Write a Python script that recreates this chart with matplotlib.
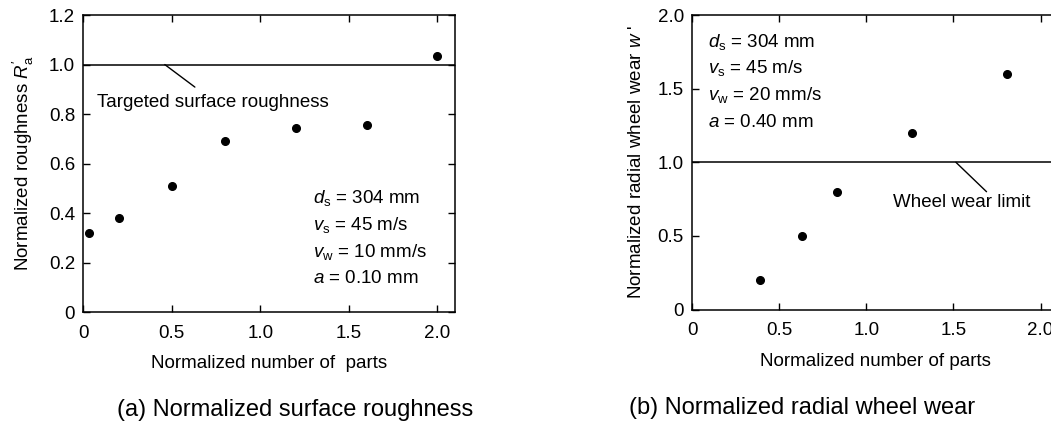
import matplotlib
matplotlib.use("Agg")
import matplotlib.pyplot as plt

plt.rcParams['font.family'] = ['Liberation Sans', 'DejaVu Sans']
plt.rcParams['mathtext.fontset'] = 'custom'
plt.rcParams['mathtext.rm'] = 'Liberation Sans'
plt.rcParams['mathtext.it'] = 'Liberation Sans:italic'

# (a) surface roughness
parts_a = [0.03, 0.20, 0.50, 0.80, 1.20, 1.60, 2.00]
roughness = [0.318, 0.378, 0.509, 0.692, 0.745, 0.754, 1.036]
target_roughness = 1.0

# (b) radial wheel wear
parts_b = [0.39, 0.63, 0.83, 1.26, 1.81]
wheel_wear = [0.20, 0.50, 0.80, 1.20, 1.60]
wear_limit = 1.0

xticks = [0, 0.5, 1.0, 1.5, 2.0]
xticklabels = ['0', '0.5', '1.0', '1.5', '2.0']
yticks_a = [0, 0.2, 0.4, 0.6, 0.8, 1.0, 1.2]
yticklabels_a = ['0', '0.2', '0.4', '0.6', '0.8', '1.0', '1.2']
yticks_b = [0, 0.5, 1.0, 1.5, 2.0]
yticklabels_b = ['0', '0.5', '1.0', '1.5', '2.0']

params_a = ['$d_\\mathrm{s}$ = 304 mm', '$v_\\mathrm{s}$ = 45 m/s',
            '$v_\\mathrm{w}$ = 10 mm/s', '$a$ = 0.10 mm']
params_b = ['$d_\\mathrm{s}$ = 304 mm', '$v_\\mathrm{s}$ = 45 m/s',
            '$v_\\mathrm{w}$ = 20 mm/s', '$a$ = 0.40 mm']

FS = 13.5

fig = plt.figure(figsize=(10.51, 4.23), dpi=100)
ax1 = fig.add_axes([0.0793, 0.2624, 0.3537, 0.702])
ax2 = fig.add_axes([0.6586, 0.2683, 0.348, 0.6962])


def style(ax, yticks, yticklabels, ylim):
    ax.set_xlim(0, 2.1)
    ax.set_ylim(*ylim)
    ax.set_xticks(xticks)
    ax.set_xticklabels(xticklabels)
    ax.set_yticks(yticks)
    ax.set_yticklabels(yticklabels)
    ax.tick_params(direction='in', top=True, right=True, length=5,
                   width=1.0, labelsize=FS)
    ax.tick_params(axis='x', pad=9)
    ax.tick_params(axis='y', pad=6)
    for s in ax.spines.values():
        s.set_linewidth(1.1)


# panel (a)
style(ax1, yticks_a, yticklabels_a, (0, 1.2))
ax1.plot(parts_a, roughness, 'o', color='black', markersize=5.5)
ax1.axhline(target_roughness, color='black', lw=1.1)
ax1.annotate('', xy=(0.46, target_roughness), xytext=(0.63, 0.909),
             arrowprops=dict(arrowstyle='-', color='black', lw=1.0,
                             shrinkA=0, shrinkB=0))
ax1.text(0.075, 0.845, 'Targeted surface roughness', fontsize=FS,
         va='center', ha='left')
for i, s in enumerate(params_a):
    ax1.text(1.3, 0.46 - i * 0.108, s, fontsize=FS, va='center', ha='left')
ax1.set_ylabel("Normalized roughness $R_\\mathrm{a}^{\\prime}$", fontsize=FS,
               labelpad=9)
ax1.set_xlabel('Normalized number of  parts', fontsize=FS, labelpad=10)

# panel (b)
style(ax2, yticks_b, yticklabels_b, (0, 2.0))
ax2.plot(parts_b, wheel_wear, 'o', color='black', markersize=5.5)
ax2.axhline(wear_limit, color='black', lw=1.1)
ax2.annotate('', xy=(1.514, wear_limit), xytext=(1.69, 0.8),
             arrowprops=dict(arrowstyle='-', color='black', lw=1.0,
                             shrinkA=0, shrinkB=0))
ax2.text(1.151, 0.728, 'Wheel wear limit', fontsize=FS,
         va='center', ha='left')
for i, s in enumerate(params_b):
    ax2.text(0.092, 1.82 - i * 0.183, s, fontsize=FS, va='center', ha='left')
ax2.set_ylabel("Normalized radial wheel wear $w$ '", fontsize=FS,
               labelpad=9)
ax2.set_xlabel('Normalized number of parts', fontsize=FS, labelpad=10)

fig.text(295 / 1051, 1 - 410 / 423, '(a) Normalized surface roughness',
         fontsize=17, ha='center', va='center')
fig.text(801.7 / 1051, 1 - 408 / 423, '(b) Normalized radial wheel wear',
         fontsize=17, ha='center', va='center')

fig.savefig('out.png', dpi=100)
